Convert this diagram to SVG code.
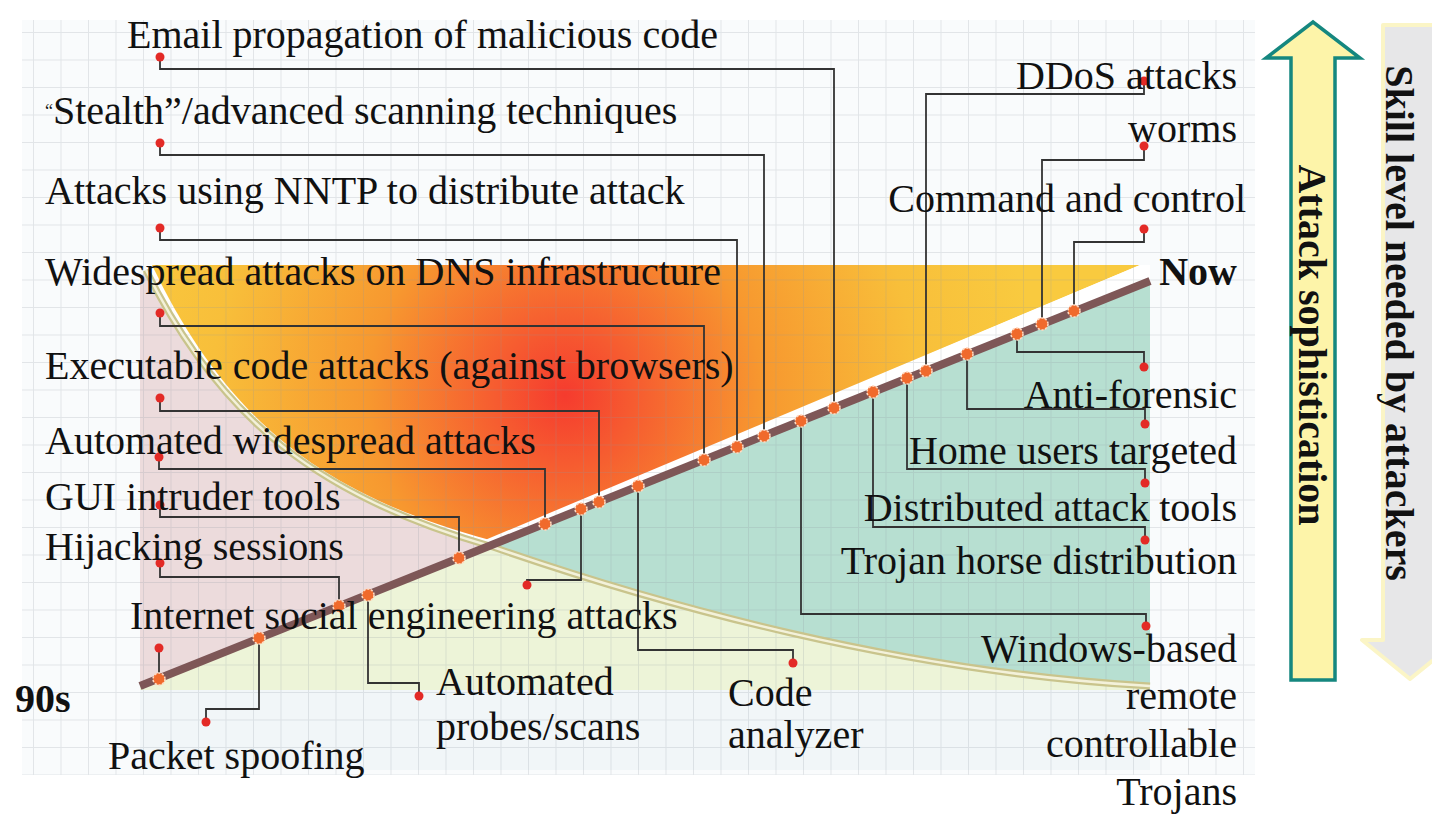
<svg xmlns="http://www.w3.org/2000/svg" width="1432" height="814" viewBox="0 0 1432 814">
<defs>
<style>
.t{font-family:"Liberation Serif","Times New Roman",serif;font-size:40px;fill:#111}
.b{font-weight:bold}
.r{text-anchor:end}
.cn{fill:none;stroke:#333;stroke-width:1.8}
.rd{fill:#e32a26}
.dd{fill:#f06a2c;stroke:#ffd9c0;stroke-width:1.6;stroke-dasharray:2.2 1.6}
</style>
<pattern id="grid" x="33" y="32" width="27.5" height="27.5" patternUnits="userSpaceOnUse">
<path d="M0,0.5 H27.5 M0.5,0 V27.5" stroke="#8d969e" stroke-opacity="0.22" stroke-width="1" fill="none"/>
</pattern>
<radialGradient id="og" gradientUnits="userSpaceOnUse" cx="565" cy="395" r="470">
<stop offset="0" stop-color="#f53b2e"/>
<stop offset="0.14" stop-color="#f65a30"/>
<stop offset="0.42" stop-color="#f7982f"/>
<stop offset="0.75" stop-color="#f8bf3a"/>
<stop offset="1" stop-color="#f9ca3f"/>
</radialGradient>
<clipPath id="aboveDiag"><polygon points="140,686 1150,281 1150,255 140,255"/></clipPath>
<clipPath id="belowDiag"><polygon points="140,686 1150,281 1150,700 140,700"/></clipPath>
<clipPath id="orangeTri"><polygon points="140,265 1140,265 140,685"/></clipPath>
</defs>

<rect width="1432" height="814" fill="#ffffff"/>
<rect x="22" y="20" width="1233" height="755" fill="#f9fbfc"/>
<rect x="140" y="690" width="1010" height="80" fill="#f1f6f8"/>

<g id="chart-areas">
<path d="M146,270 C220,420 320,497 490,546 C660,605 900,672 1150,686 L1150,690 L140,690 L140,278 Z" fill="#edf4d8"/>
<path d="M146,270 C220,420 320,497 490,546 C660,605 900,672 1150,686 L1150,690 L140,690 L140,278 Z" fill="#ecdbdc" clip-path="url(#aboveDiag)"/>
<path d="M146,270 C220,420 320,497 490,546 C660,605 900,672 1150,686 L1150,265 L146,265 Z" fill="#b7dfd1" clip-path="url(#belowDiag)"/>
<path d="M146,270 C220,420 320,497 490,546 C660,605 900,672 1150,686 L1150,265 L146,265 Z" fill="#ffffff" clip-path="url(#aboveDiag)"/>
<path d="M152,265 C226,420 322,495 490,540 L1140,265 Z" fill="url(#og)" clip-path="url(#orangeTri)"/>
</g>

<rect x="22" y="20" width="1233" height="755" fill="url(#grid)"/>

<g id="curves">
<path d="M146,270 C220,420 320,497 490,546 C660,605 900,672 1150,686" fill="none" stroke="#c9c48c" stroke-width="7"/>
<path d="M146,270 C220,420 320,497 490,546 C660,605 900,672 1150,686" fill="none" stroke="#f3f1da" stroke-width="2.5"/>
<line x1="140" y1="686" x2="1150" y2="281" stroke="#7e5757" stroke-width="8"/>
</g>

<g id="connectors">
<path class="cn" d="M160,57 V69 H834 V408"/>
<path class="cn" d="M160,143 V155 H764 V436"/>
<path class="cn" d="M160,228 V240 H737 V447"/>
<path class="cn" d="M160,313 V326 H704 V460"/>
<path class="cn" d="M160,398 V411 H599 V502"/>
<path class="cn" d="M159,457 V469 H545 V524"/>
<path class="cn" d="M160,505 V517 H459 V558"/>
<path class="cn" d="M160,563 V577 H339 V606"/>
<path class="cn" d="M159,648 V679"/>
<path class="cn" d="M259,638 V709 H206 V722"/>
<path class="cn" d="M368,595 V683 H419 V696"/>
<path class="cn" d="M581,509 V580 H527 V585"/>
<path class="cn" d="M638,486 V650 H793 V663"/>
<path class="cn" d="M926,371 V94 H1144 V81"/>
<path class="cn" d="M1042,324 V160 H1144 V146"/>
<path class="cn" d="M1074,311 V242 H1144 V229"/>
<path class="cn" d="M1017,334 V352 H1144 V367"/>
<path class="cn" d="M967,354 V409 H1145 V424"/>
<path class="cn" d="M907,378 V469 H1145 V483"/>
<path class="cn" d="M873,392 V527 H1145 V540"/>
<path class="cn" d="M801,421 V614 H1146 V626"/>
</g>

<g id="timeline-dots">
<circle class="dd" cx="159" cy="679" r="6"/>
<circle class="dd" cx="259" cy="638" r="6"/>
<circle class="dd" cx="339" cy="606" r="6"/>
<circle class="dd" cx="368" cy="595" r="6"/>
<circle class="dd" cx="459" cy="558" r="6"/>
<circle class="dd" cx="545" cy="524" r="6"/>
<circle class="dd" cx="581" cy="509" r="6"/>
<circle class="dd" cx="599" cy="502" r="6"/>
<circle class="dd" cx="638" cy="486" r="6"/>
<circle class="dd" cx="704" cy="460" r="6"/>
<circle class="dd" cx="737" cy="447" r="6"/>
<circle class="dd" cx="764" cy="436" r="6"/>
<circle class="dd" cx="801" cy="421" r="6"/>
<circle class="dd" cx="834" cy="408" r="6"/>
<circle class="dd" cx="873" cy="392" r="6"/>
<circle class="dd" cx="907" cy="378" r="6"/>
<circle class="dd" cx="926" cy="371" r="6"/>
<circle class="dd" cx="967" cy="354" r="6"/>
<circle class="dd" cx="1017" cy="334" r="6"/>
<circle class="dd" cx="1042" cy="324" r="6"/>
<circle class="dd" cx="1074" cy="311" r="6"/>
</g>

<g id="n-email"><circle class="rd" cx="160" cy="57" r="4.5"/><text class="t" x="127" y="48">Email propagation of malicious code</text></g>
<g id="n-stealth"><circle class="rd" cx="160" cy="143" r="4.5"/><text class="t" x="45" y="124"><tspan font-size="18" dy="-7">“</tspan><tspan dy="7">Stealth”/advanced scanning techniques</tspan></text></g>
<g id="n-nntp"><circle class="rd" cx="160" cy="228" r="4.5"/><text class="t" x="45" y="204">Attacks using NNTP to distribute attack</text></g>
<g id="n-dns"><circle class="rd" cx="160" cy="313" r="4.5"/><text class="t" x="45" y="285">Widespread attacks on DNS infrastructure</text></g>
<g id="n-exec"><circle class="rd" cx="160" cy="398" r="4.5"/><text class="t" x="45" y="379">Executable code attacks (against browsers)</text></g>
<g id="n-autowide"><circle class="rd" cx="159" cy="457" r="4.5"/><text class="t" x="45" y="454">Automated widespread attacks</text></g>
<g id="n-gui"><circle class="rd" cx="160" cy="505" r="4.5"/><text class="t" x="45" y="510">GUI intruder tools</text></g>
<g id="n-hijack"><circle class="rd" cx="160" cy="563" r="4.5"/><text class="t" x="45" y="560">Hijacking sessions</text></g>
<g id="n-social"><circle class="rd" cx="159" cy="648" r="4.5"/><circle class="rd" cx="527" cy="585" r="4.5"/><text class="t" x="130" y="629">Internet social engineering attacks</text></g>
<g id="n-90s"><text class="t b" x="15" y="712">90s</text></g>
<g id="n-packet"><circle class="rd" cx="206" cy="722" r="4.5"/><text class="t" x="108" y="769">Packet spoofing</text></g>
<g id="n-probes"><circle class="rd" cx="419" cy="696" r="4.5"/><text class="t" x="436" y="695">Automated</text><text class="t" x="436" y="740">probes/scans</text></g>
<g id="n-code"><circle class="rd" cx="793" cy="663" r="4.5"/><text class="t" x="728" y="706">Code</text><text class="t" x="728" y="748">analyzer</text></g>
<g id="n-ddos"><circle class="rd" cx="1144" cy="81" r="4.5"/><text class="t r" x="1237" y="89">DDoS attacks</text></g>
<g id="n-worms"><circle class="rd" cx="1144" cy="146" r="4.5"/><text class="t r" x="1237" y="142">worms</text></g>
<g id="n-cc"><circle class="rd" cx="1144" cy="229" r="4.5"/><text class="t r" x="1246" y="212">Command and control</text></g>
<g id="n-now"><text class="t b r" x="1237" y="285">Now</text></g>
<g id="n-antiforensic"><circle class="rd" cx="1144" cy="367" r="4.5"/><text class="t r" x="1237" y="408">Anti-forensic</text></g>
<g id="n-home"><circle class="rd" cx="1145" cy="424" r="4.5"/><text class="t r" x="1237" y="464">Home users targeted</text></g>
<g id="n-dist"><circle class="rd" cx="1145" cy="483" r="4.5"/><text class="t r" x="1237" y="521">Distributed attack tools</text></g>
<g id="n-trojan"><circle class="rd" cx="1145" cy="540" r="4.5"/><text class="t r" x="1237" y="574">Trojan horse distribution</text></g>
<g id="n-windows"><circle class="rd" cx="1146" cy="626" r="4.5"/><text class="t r" x="1237" y="662">Windows-based</text><text class="t r" x="1237" y="709">remote</text><text class="t r" x="1237" y="757">controllable</text><text class="t r" x="1237" y="805">Trojans</text></g>

<g id="arrow-sophistication">
<polygon points="1291,680 1291,58 1266,58 1313,22 1360,58 1335,58 1335,680" fill="#fdf4a9" stroke="#15877f" stroke-width="3.5" stroke-linejoin="miter"/>
<text class="t b" text-anchor="middle" transform="translate(1299,345) rotate(90)">Attack sophistication</text>
</g>
<g id="arrow-skill">
<polygon points="1383,25 1440,25 1440,640 1458,640 1410,679 1362,640 1383,640" fill="#e7e7e8" stroke="#fbf5c6" stroke-width="4" stroke-linejoin="round"/>
<text class="t b" text-anchor="middle" transform="translate(1386,323) rotate(90)">Skill level needed by attackers</text>
</g>
</svg>
